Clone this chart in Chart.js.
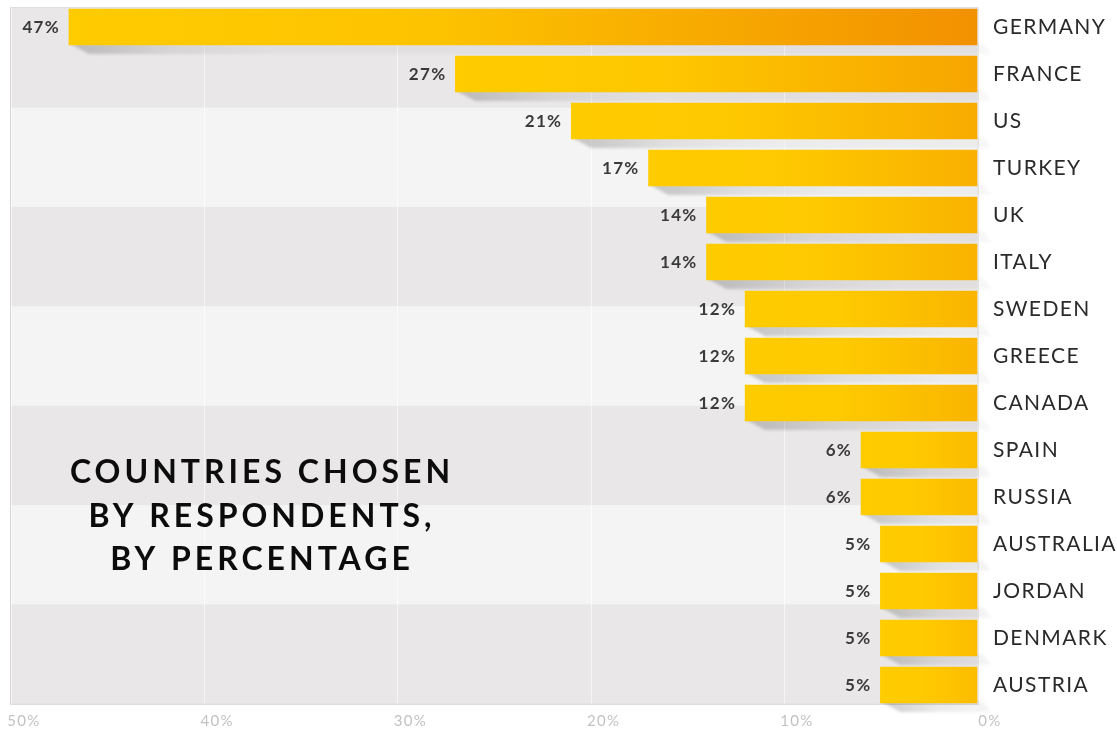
<!DOCTYPE html>
<html>
<head>
<meta charset="utf-8">
<title>Countries chosen by respondents</title>
<script src="https://cdn.jsdelivr.net/npm/chart.js@4.4.1/dist/chart.umd.min.js"></script>
<style>
  html, body { margin: 0; padding: 0; background: #fff; }
  #wrap { width: 1117px; height: 729px; }
</style>
</head>
<body>
<div id="wrap"><canvas id="countriesChart" width="1117" height="729"></canvas></div>
<script>
const countries = ["GERMANY", "FRANCE", "US", "TURKEY", "UK", "ITALY", "SWEDEN", "GREECE",
    "CANADA", "SPAIN", "RUSSIA", "AUSTRALIA", "JORDAN", "DENMARK", "AUSTRIA"];
const percentages = [47, 27, 21, 17, 14, 14, 12, 12, 12, 6, 6, 5, 5, 5, 5];
const xTicks = [0, 10, 20, 30, 40, 50];
const titleLines = ["COUNTRIES CHOSEN", "BY RESPONDENTS,", "BY PERCENTAGE"];

const YELLOW = [255, 204, 0];
const ORANGE = [242, 145, 0];
const BAND_COUNT = 7;

function mix(a, b, t) {
    const c = a.map((v, i) => Math.round(v + (b[i] - v) * t));
    return `rgb(${c[0]}, ${c[1]}, ${c[2]})`;
}

// Yellow-to-orange fill; longer bars get deeper orange at their base
function barFill(context) {
    const chart = context.chart;
    if (!chart.chartArea || context.raw === undefined) return mix(YELLOW, YELLOW, 0);
    const x = chart.scales.x;
    const left = x.getPixelForValue(context.raw);
    const right = x.getPixelForValue(0);
    const share = Math.min(1, (right - left) / (x.right - x.left) * 1.07);
    const g = chart.ctx.createLinearGradient(left, 0, right, 0);
    g.addColorStop(0, mix(YELLOW, YELLOW, 0));
    g.addColorStop(0.4, mix(YELLOW, ORANGE, share * 0.15));
    g.addColorStop(1, mix(YELLOW, ORANGE, 0.18 + share * 0.82));
    return g;
}

// Panel rectangle spans a little past the first and last category centres
function panelBounds(chart) {
    const area = chart.chartArea;
    const row = (area.bottom - area.top) / (countries.length - 1);
    return {
        top: area.top - row * 0.4,
        bottom: area.bottom + row * 0.4,
        left: area.left,
        right: area.right
    };
}

const panelPlugin = {
    id: "panel",
    beforeDraw(chart) {
        const ctx = chart.ctx;
        const p = panelBounds(chart);
        const band = (p.bottom - p.top) / BAND_COUNT;
        ctx.save();
        for (let i = 0; i < BAND_COUNT; i++) {
            ctx.fillStyle = i % 2 === 0 ? "#e9e7e8" : "#f4f4f4";
            ctx.fillRect(p.left, p.top + i * band, p.right - p.left, band + 0.5);
        }
        // faint vertical grid at each 10%
        ctx.strokeStyle = "rgba(255, 255, 255, 0.6)";
        ctx.lineWidth = 1;
        xTicks.forEach(v => {
            const px = Math.round(chart.scales.x.getPixelForValue(v)) + 0.5;
            ctx.beginPath();
            ctx.moveTo(px, p.top);
            ctx.lineTo(px, p.bottom);
            ctx.stroke();
        });
        ctx.strokeStyle = "#d6d6d6";
        ctx.strokeRect(p.left - 0.5, p.top - 0.5, p.right - p.left + 1.5, p.bottom - p.top + 1);
        ctx.restore();
        // spacing for the percentage ticks along the bottom
        ctx.letterSpacing = "1.3px";
    },
    beforeDatasetsDraw(chart) {
        // soft drop shadow under the left end of every bar
        const ctx = chart.ctx;
        ctx.save();
        ctx.filter = "blur(1.5px)";
        chart.getDatasetMeta(0).data.forEach(bar => {
            const left = Math.min(bar.x, bar.base);
            const right = Math.max(bar.x, bar.base);
            const bottom = bar.y + bar.height / 2;
            const fade = chart.ctx.createLinearGradient(left, 0, left + Math.min(200, right - left + 20), 0);
            fade.addColorStop(0, "rgba(0, 0, 0, 0.2)");
            fade.addColorStop(0.5, "rgba(0, 0, 0, 0.08)");
            fade.addColorStop(1, "rgba(0, 0, 0, 0.03)");
            ctx.fillStyle = fade;
            ctx.beginPath();
            ctx.moveTo(left, bottom - 2);
            ctx.lineTo(right + 6, bottom - 2);
            ctx.lineTo(right + 14, bottom + 9);
            ctx.lineTo(left + 20, bottom + 9);
            ctx.closePath();
            ctx.fill();
        });
        ctx.restore();
    },
    afterDatasetsDraw(chart) {
        const ctx = chart.ctx;
        ctx.save();
        ctx.letterSpacing = "1.3px";
        ctx.font = "bold 17px Lato";
        ctx.fillStyle = "#3a3a3a";
        ctx.textAlign = "right";
        ctx.textBaseline = "middle";
        chart.getDatasetMeta(0).data.forEach((bar, i) => {
            ctx.fillText(percentages[i] + "%", Math.min(bar.x, bar.base) - 9, bar.y + 1);
        });
        ctx.restore();
        // category names are drawn next, in a later layer
        ctx.letterSpacing = "1.4px";
    },
    afterDraw(chart) {
        const ctx = chart.ctx;
        ctx.save();
        ctx.letterSpacing = "4px";
        ctx.font = "bold 32px Lato";
        ctx.fillStyle = "#0c0c0c";
        ctx.textAlign = "center";
        ctx.textBaseline = "alphabetic";
        const cx = chart.chartArea.left + 251;
        titleLines.forEach((line, i) => {
            ctx.fillText(line, cx, 483 + i * 43.5);
        });
        ctx.restore();
        ctx.letterSpacing = "0px";
    }
};

function createChart() {
    const ctx = document.getElementById("countriesChart").getContext("2d");
    new Chart(ctx, {
        type: "bar",
        data: {
            labels: countries,
            datasets: [{
                data: percentages,
                backgroundColor: barFill,
                borderWidth: 0,
                barThickness: 36,
                clip: false
            }]
        },
        options: {
            indexAxis: "y",
            responsive: false,
            devicePixelRatio: 1,
            animation: false,
            layout: { padding: { top: 27, left: 11, right: 0, bottom: 0 } },
            plugins: {
                legend: { display: false },
                tooltip: { enabled: false }
            },
            scales: {
                x: {
                    type: "linear",
                    min: 0,
                    max: 50,
                    reverse: true,
                    position: "bottom",
                    grid: { display: false, drawTicks: false },
                    border: { display: false },
                    afterBuildTicks: scale => { scale.ticks = xTicks.map(v => ({ value: v })); },
                    afterFit: scale => {
                        scale.height = 44;
                        scale.paddingLeft = 0;
                        scale.paddingRight = 0;
                    },
                    ticks: {
                        callback: v => v + "%",
                        color: "#c2c2c2",
                        font: { family: "Lato", size: 15 },
                        padding: 27,
                        labelOffset: 13,
                        maxRotation: 0
                    }
                },
                y: {
                    type: "category",
                    position: "right",
                    offset: false,
                    grid: { display: false, drawTicks: false },
                    border: { display: false },
                    afterFit: scale => {
                        scale.width = 140;
                        scale.paddingTop = 0;
                        scale.paddingBottom = 0;
                    },
                    ticks: {
                        color: "#2a2a2a",
                        font: { family: "Lato", size: 21 },
                        padding: 16,
                        z: 1
                    }
                }
            }
        },
        plugins: [panelPlugin]
    });
}

document.fonts.load("bold 32px Lato").then(() => document.fonts.load("21px Lato")).then(createChart, createChart);
</script>
</body>
</html>
